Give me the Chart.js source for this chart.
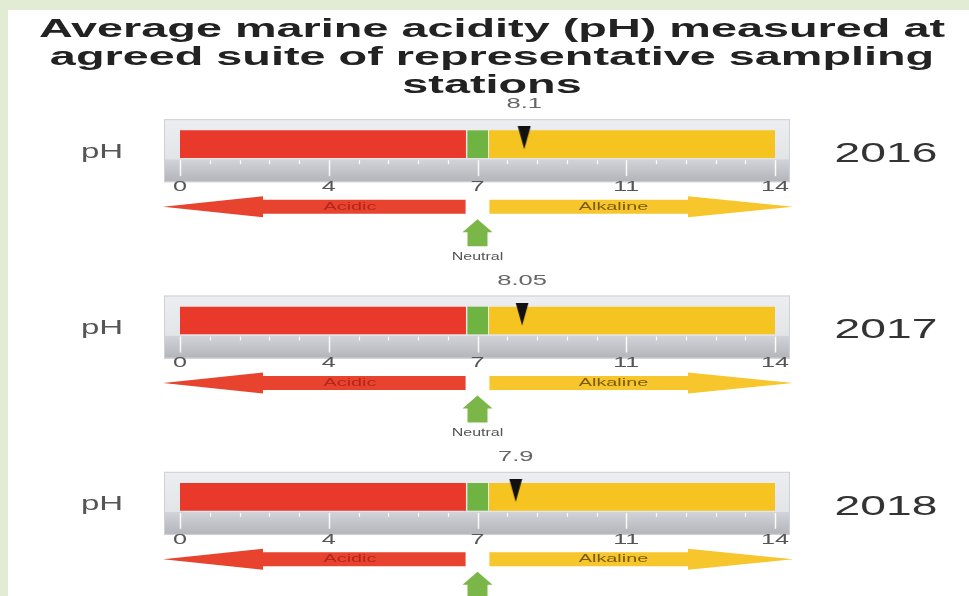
<!DOCTYPE html>
<html>
<head>
<meta charset="utf-8">
<title>Marine acidity</title>
<script src="https://cdn.jsdelivr.net/npm/chart.js@4.4.1/dist/chart.umd.min.js"></script>
<style>
  html, body { margin: 0; padding: 0; background: #e2ecd5; overflow: hidden; }
  #wrap { width: 969px; height: 596px; position: relative; }
</style>
</head>
<body>
<div id="wrap"><canvas id="phChart"></canvas></div>
<script>
// values
const years = ['2016', '2017', '2018'];
const phValues = [8.1, 8.05, 7.9];
const phLabels = ['8.1', '8.05', '7.9'];
const acidicRange = [0, 6.72];
const neutralRange = [6.77, 7.24];
const alkalineRange = [7.28, 14];
const tickValues = [0, 3.5, 7, 10.5, 14];
const tickLabels = ['0', '4', '7', '11', '14'];
const titleLines = [
    'Average marine acidity (pH) measured at',
    'agreed suite of representative sampling',
    'stations'
];

const FONT = '"Liberation Sans", Arial, sans-serif';

// the source picture is stretched sideways, so text is drawn wide too
function wideText(ctx, text, x, y, size, color, sx, bold, baseline) {
    ctx.save();
    ctx.font = (bold ? 'bold ' : '') + size + 'px ' + FONT;
    ctx.fillStyle = color;
    ctx.textAlign = 'center';
    ctx.textBaseline = baseline || 'middle';
    ctx.translate(x, y);
    ctx.scale(sx, 1);
    ctx.fillText(text, 0, 0);
    ctx.restore();
}

function markerImage() {
    const c = document.createElement('canvas');
    c.width = 14;
    c.height = 36;
    const g = c.getContext('2d');
    g.fillStyle = '#111';
    g.beginPath();
    g.moveTo(0.5, 0);
    g.lineTo(13.5, 0);
    g.lineTo(7, 23);
    g.closePath();
    g.fill();
    return c;
}

function arrowLeft(ctx, tipX, endX, cy, headLen, shaftH, headH, color) {
    ctx.beginPath();
    ctx.moveTo(tipX, cy);
    ctx.lineTo(tipX + headLen, cy - headH);
    ctx.lineTo(tipX + headLen, cy - shaftH);
    ctx.lineTo(endX, cy - shaftH);
    ctx.lineTo(endX, cy + shaftH);
    ctx.lineTo(tipX + headLen, cy + shaftH);
    ctx.lineTo(tipX + headLen, cy + headH);
    ctx.closePath();
    ctx.fillStyle = color;
    ctx.fill();
}

function arrowRight(ctx, startX, tipX, cy, headLen, shaftH, headH, color) {
    ctx.beginPath();
    ctx.moveTo(tipX, cy);
    ctx.lineTo(tipX - headLen, cy - headH);
    ctx.lineTo(tipX - headLen, cy - shaftH);
    ctx.lineTo(startX, cy - shaftH);
    ctx.lineTo(startX, cy + shaftH);
    ctx.lineTo(tipX - headLen, cy + shaftH);
    ctx.lineTo(tipX - headLen, cy + headH);
    ctx.closePath();
    ctx.fillStyle = color;
    ctx.fill();
}

const gaugePlugin = {
    id: 'gauge',
    beforeDraw(chart) {
        const ctx = chart.ctx;
        ctx.save();
        ctx.fillStyle = '#e2ecd5';
        ctx.fillRect(0, 0, chart.width, chart.height);
        ctx.fillStyle = '#ffffff';
        ctx.fillRect(8, 10, chart.width - 8, chart.height - 10);
        ctx.restore();
        titleLines.forEach((line, i) => {
            wideText(ctx, line, 492, 37 + i * 28, 26, '#222', 1.8, true, 'alphabetic');
        });
    },
    beforeDatasetsDraw(chart) {
        const { ctx, scales: { x, y } } = chart;
        const left = x.getPixelForValue(0);
        const right = x.getPixelForValue(14);
        years.forEach((yr, i) => {
            const cy = y.getPixelForValue(i);
            ctx.save();
            // frame
            const fx0 = left - 16, fx1 = right + 15;
            const top = ctx.createLinearGradient(0, cy - 25, 0, cy + 15);
            top.addColorStop(0, '#eceef2');
            top.addColorStop(1, '#e2e4e8');
            ctx.fillStyle = top;
            ctx.fillRect(fx0, cy - 25, fx1 - fx0, 40);
            const band = ctx.createLinearGradient(0, cy + 15, 0, cy + 38);
            band.addColorStop(0, '#d3d4d9');
            band.addColorStop(1, '#b3b4b9');
            ctx.fillStyle = band;
            ctx.fillRect(fx0, cy + 15, fx1 - fx0, 23);
            ctx.strokeStyle = '#cfd0d5';
            ctx.lineWidth = 1;
            ctx.strokeRect(fx0 + 0.5, cy - 24.5, fx1 - fx0 - 1, 62);
            // ticks
            ctx.strokeStyle = 'rgba(255,255,255,0.9)';
            for (let k = 0; k <= 20; k++) {
                const tx = Math.round(x.getPixelForValue(k * 0.7)) + 0.5;
                const major = k % 5 === 0;
                ctx.lineWidth = major ? 1.5 : 1.2;
                ctx.beginPath();
                ctx.moveTo(tx, cy + 16);
                ctx.lineTo(tx, cy + (major ? 32 : 20));
                ctx.stroke();
            }
            ctx.restore();
            tickValues.forEach((v, k) => {
                wideText(ctx, tickLabels[k], x.getPixelForValue(v), cy + 43, 14, '#555', 1.8);
            });
        });
    },
    afterDatasetsDraw(chart) {
        const { ctx, scales: { x, y } } = chart;
        const left = x.getPixelForValue(0);
        const right = x.getPixelForValue(14);
        const acidEnd = x.getPixelForValue(acidicRange[1]);
        const alkStart = x.getPixelForValue(alkalineRange[0]);
        const neutralX = x.getPixelForValue((acidicRange[1] + alkalineRange[0]) / 2);
        const marks = chart.getDatasetMeta(3).data;
        years.forEach((yr, i) => {
            const cy = y.getPixelForValue(i);
            // value above marker
            wideText(ctx, phLabels[i], marks[i].x, cy - 40, 15, '#666', 1.7);
            // side labels
            wideText(ctx, 'pH', 102, cy + 8, 20, '#555', 1.65);
            wideText(ctx, yr, 886, cy + 10, 28, '#333', 1.65);
            // acidic / alkaline arrows
            const ay = cy + 62.5;
            ctx.save();
            arrowLeft(ctx, left - 17, acidEnd, ay, 100, 7, 10.5, '#e8432f');
            arrowRight(ctx, alkStart, right + 18, ay, 105, 7, 10.5, '#f7c52c');
            ctx.restore();
            wideText(ctx, 'Acidic', x.getPixelForValue(4), ay, 11, '#b3261c', 1.8);
            wideText(ctx, 'Alkaline', x.getPixelForValue(10.2), ay, 11, '#7a5c0a', 1.8);
            // neutral arrow
            ctx.save();
            ctx.fillStyle = '#7ab648';
            ctx.beginPath();
            ctx.moveTo(neutralX, cy + 75);
            ctx.lineTo(neutralX + 15, cy + 88);
            ctx.lineTo(neutralX + 10, cy + 88);
            ctx.lineTo(neutralX + 10, cy + 102);
            ctx.lineTo(neutralX - 10, cy + 102);
            ctx.lineTo(neutralX - 10, cy + 88);
            ctx.lineTo(neutralX - 15, cy + 88);
            ctx.closePath();
            ctx.fill();
            ctx.restore();
            wideText(ctx, 'Neutral', neutralX, cy + 113, 10, '#555', 1.6);
        });
    }
};

const ctx = document.getElementById('phChart').getContext('2d');
const phChart = new Chart(ctx, {
    type: 'bar',
    data: {
        labels: years,
        datasets: [
            {
                label: 'Acidic',
                data: years.map(() => acidicRange),
                backgroundColor: '#e8392b'
            },
            {
                label: 'Neutral',
                data: years.map(() => neutralRange),
                backgroundColor: '#6fb443'
            },
            {
                label: 'Alkaline',
                data: years.map(() => alkalineRange),
                backgroundColor: '#f6c421'
            },
            {
                type: 'scatter',
                label: 'Average pH',
                data: years.map((yr, i) => ({ x: phValues[i], y: yr })),
                pointStyle: markerImage(),
                pointRadius: 10,
                pointHoverRadius: 10,
                order: -1
            }
        ]
    },
    options: {
        indexAxis: 'y',
        responsive: true,
        maintainAspectRatio: false,
        animation: false,
        datasets: {
            bar: { grouped: false, barThickness: 27, borderWidth: 0, borderSkipped: false }
        },
        layout: { padding: { left: 180, right: 194, top: 56, bottom: 10 } },
        plugins: {
            legend: { display: false },
            title: { display: false },
            tooltip: { enabled: false }
        },
        scales: {
            x: { type: 'linear', min: 0, max: 14, display: false },
            y: { type: 'category', offset: true, display: false }
        }
    },
    plugins: [gaugePlugin]
});
</script>
</body>
</html>
